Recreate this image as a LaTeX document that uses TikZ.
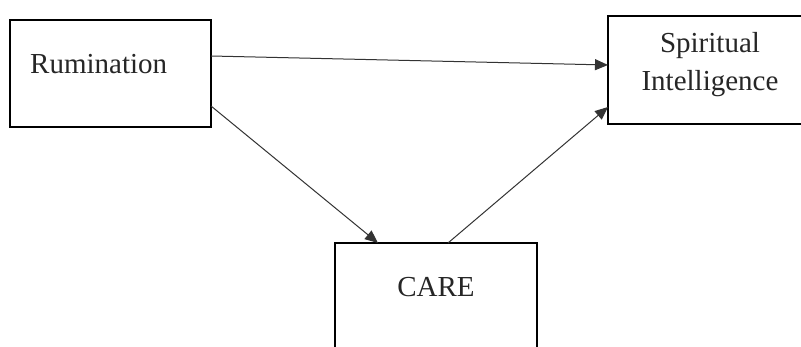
\documentclass[tikz,border=0pt]{standalone}
\usepackage{fontspec}
\setmainfont{Liberation Serif}
\usetikzlibrary{arrows.meta}
\tikzset{
  boxnode/.style={draw=black, line width=2.4pt, inner sep=0pt, outer sep=0pt},
  lbl/.style={inner sep=0pt, font=\fontsize{29}{37}\selectfont, text=black!85},
  conn/.style={draw=black!80, line width=1pt, -{Triangle[length=13pt,width=11pt]}}
}
\begin{document}
\begin{tikzpicture}[x=1pt,y=-1pt]
\useasboundingbox (0,0) rectangle (801,347);
\clip (0,0) rectangle (801,347);
\fill[white] (0,0) rectangle (801,347);
% boxes
\node[boxnode, minimum width=201pt, minimum height=107pt] (rum) at (110.5,73.5) {};
\node[boxnode, minimum width=222pt, minimum height=108pt] (spi) at (719,70) {};
\node[boxnode, minimum width=202pt, minimum height=130pt] (care) at (436,308) {};
% texts
\node[lbl, anchor=base west] (rumt) at (30,74) {Rumination};
\node[lbl, anchor=base] (spit1) at (710,53) {Spiritual};
\node[lbl, anchor=base] (spit2) at (710,91) {Intelligence};
\node[lbl, anchor=base] (caret) at (436,297) {CARE};
% connectors
\draw[conn] ([yshift=17.5pt]rum.east) -- ([yshift=5pt]spi.west);
\draw[conn] ([yshift=-32.5pt]rum.east) -- ([xshift=-58pt]care.north);
\draw[conn] ([xshift=12pt]care.north) -- ([yshift=-37pt]spi.west);
\end{tikzpicture}
\end{document}
